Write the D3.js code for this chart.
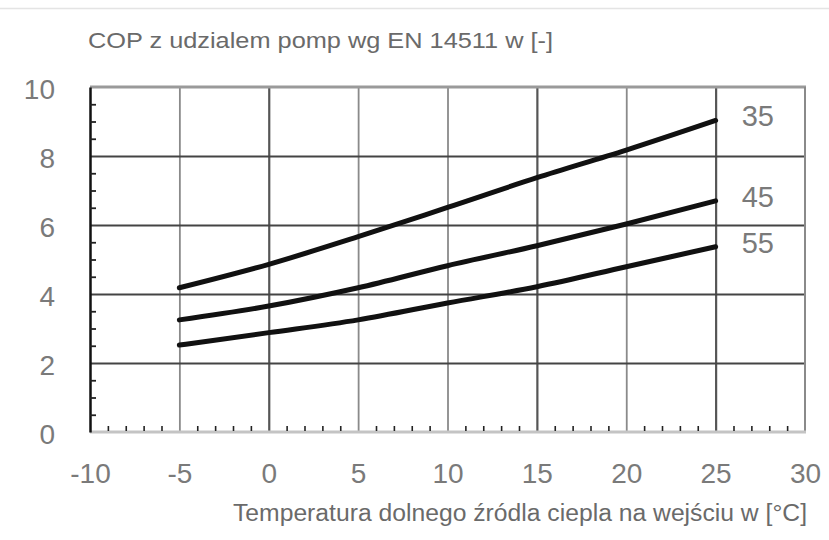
<!DOCTYPE html>
<html>
<head>
<meta charset="utf-8">
<script src="https://cdn.jsdelivr.net/npm/d3@7"></script>
<style>
  body { margin: 0; background: #fff; }
  svg { display: block; }
</style>
</head>
<body>
<div id="chart"></div>
<script>
// Data
const temps = [-5, 0, 5, 10, 15, 20, 25];
const cop35 = [4.18, 4.86, 5.66, 6.51, 7.37, 8.17, 9.03];
const cop45 = [3.25, 3.65, 4.18, 4.82, 5.40, 6.03, 6.70];
const cop55 = [2.52, 2.88, 3.25, 3.74, 4.21, 4.79, 5.37];
const seriesNames = ['35', '45', '55'];
const xTicks = [-10, -5, 0, 5, 10, 15, 20, 25, 30];
const yTicks = [0, 2, 4, 6, 8, 10];
const titleText = 'COP z udzialem pomp wg EN 14511 w [-]';
const xTitleText = 'Temperatura dolnego źródla ciepla na wejściu w [°C]';

document.addEventListener('DOMContentLoaded', function() {
    const width = 829, height = 540;
    const left = 90, right = 805, top = 87, bottom = 432;
    const font = '"Liberation Sans", Arial, sans-serif';
    const labelColor = '#7a7a7a';

    const svg = d3.select('#chart')
        .append('svg')
        .attr('width', width)
        .attr('height', height);

    const x = d3.scaleLinear().domain([-10, 30]).range([left, right]);
    const y = d3.scaleLinear().domain([0, 10]).range([bottom, top]);

    // faint rule at the very top
    svg.append('line')
        .attr('x1', 0).attr('x2', width)
        .attr('y1', 8.5).attr('y2', 8.5)
        .attr('stroke', '#e4e4e4').attr('stroke-width', 1.5);

    // vertical grid (0, 15, 25 drawn darker)
    const darkX = [0, 15, 25];
    const gx = svg.append('g')
        .attr('transform', `translate(0,${bottom})`)
        .call(d3.axisBottom(x)
            .tickValues(xTicks.slice(1, -1))
            .tickSize(-(bottom - top))
            .tickFormat(''));
    gx.select('.domain').remove();
    gx.selectAll('.tick line')
        .attr('stroke', d => darkX.includes(d) ? '#555' : '#8a8a8a')
        .attr('stroke-width', d => darkX.includes(d) ? 2.2 : 1.8);

    // horizontal grid
    const gy = svg.append('g')
        .attr('transform', `translate(${left},0)`)
        .call(d3.axisLeft(y)
            .tickValues(yTicks.slice(1, -1))
            .tickSize(-(right - left))
            .tickFormat(''));
    gy.select('.domain').remove();
    gy.selectAll('.tick line')
        .attr('stroke', '#444')
        .attr('stroke-width', 2);

    // frame: top, right, bottom
    svg.append('line')
        .attr('x1', left).attr('x2', right + 1)
        .attr('y1', top).attr('y2', top)
        .attr('stroke', '#9a9a9a').attr('stroke-width', 3);
    svg.append('line')
        .attr('x1', right).attr('x2', right)
        .attr('y1', top).attr('y2', bottom)
        .attr('stroke', '#8a8a8a').attr('stroke-width', 2);
    svg.append('line')
        .attr('x1', left).attr('x2', right + 1)
        .attr('y1', bottom).attr('y2', bottom)
        .attr('stroke', '#c4c4c4').attr('stroke-width', 3);

    // minor ticks on the bottom axis (every 1 degree, pointing up)
    const minorX = d3.range(-10, 31).filter(v => v % 5 !== 0);
    const mx = svg.append('g')
        .attr('transform', `translate(0,${bottom - 1})`)
        .call(d3.axisBottom(x).tickValues(minorX).tickSize(-5).tickFormat(''));
    mx.select('.domain').remove();
    mx.selectAll('.tick line').attr('stroke', '#222').attr('stroke-width', 1.6);

    // left axis with minor ticks (every 0.5, pointing right)
    const minorY = d3.range(1, 20).map(v => v / 2).filter(v => v % 2 !== 0);
    const my = svg.append('g')
        .attr('transform', `translate(${left},0)`)
        .call(d3.axisLeft(y).tickValues(minorY).tickSize(-6).tickFormat('').tickSizeOuter(0));
    my.select('.domain').attr('stroke', '#111').attr('stroke-width', 2.5);
    my.selectAll('.tick line').attr('stroke', '#222').attr('stroke-width', 1.8);

    // tick labels
    const xl = svg.append('g')
        .attr('transform', `translate(0,${bottom})`)
        .call(d3.axisBottom(x).tickValues(xTicks).tickSize(0).tickPadding(31)
            .tickFormat(d => String(d)));
    xl.select('.domain').remove();
    xl.selectAll('text')
        .style('font-family', font)
        .style('font-size', '28px')
        .attr('fill', labelColor);

    const yl = svg.append('g')
        .attr('transform', `translate(${left},0)`)
        .call(d3.axisLeft(y).tickValues(yTicks).tickSize(0).tickPadding(35));
    yl.select('.domain').remove();
    yl.selectAll('text')
        .attr('dy', '0.42em')
        .style('font-family', font)
        .style('font-size', '28px')
        .attr('fill', labelColor);

    // curves
    const series = [cop35, cop45, cop55];
    const line = d3.line()
        .x((d, i) => x(temps[i]))
        .y(d => y(d))
        .curve(d3.curveMonotoneX);

    svg.selectAll('.curve')
        .data(series)
        .enter()
        .append('path')
        .attr('class', 'curve')
        .attr('d', d => line(d))
        .attr('fill', 'none')
        .attr('stroke', '#111')
        .attr('stroke-width', 5)
        .attr('stroke-linecap', 'round');

    // series labels next to the line ends
    svg.selectAll('.serLabel')
        .data(series)
        .enter()
        .append('text')
        .attr('class', 'serLabel')
        .attr('x', x(temps[temps.length - 1]) + 26)
        .attr('y', d => y(d[d.length - 1]) + 6)
        .style('font-family', font)
        .style('font-size', '29px')
        .attr('fill', labelColor)
        .text((d, i) => seriesNames[i]);

    // titles
    svg.append('text')
        .attr('x', 88)
        .attr('y', 48)
        .attr('textLength', 465)
        .attr('lengthAdjust', 'spacingAndGlyphs')
        .style('font-family', font)
        .style('font-size', '22px')
        .attr('fill', '#6a6a6a')
        .text(titleText);

    svg.append('text')
        .attr('x', 233)
        .attr('y', 521)
        .attr('textLength', 574)
        .attr('lengthAdjust', 'spacingAndGlyphs')
        .style('font-family', font)
        .style('font-size', '23px')
        .attr('fill', '#6a6a6a')
        .text(xTitleText);
});
</script>
</body>
</html>
